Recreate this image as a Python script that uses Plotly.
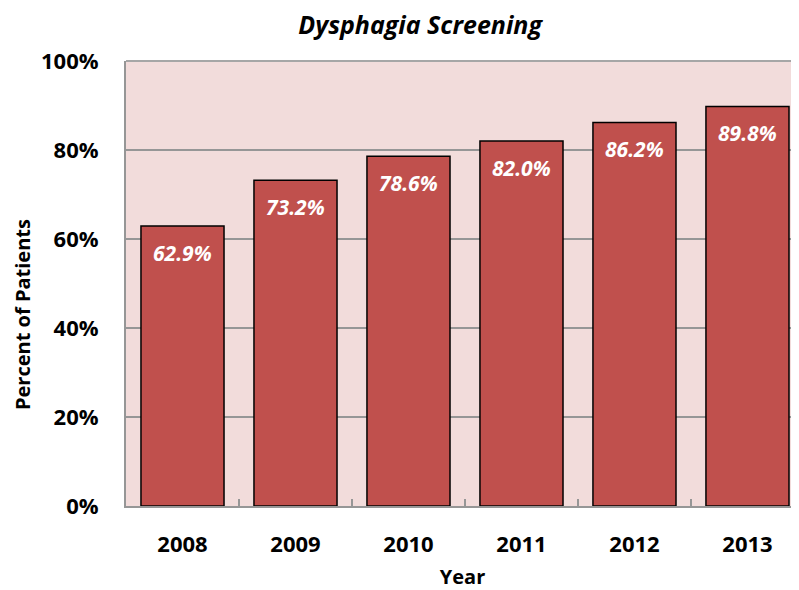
import plotly.graph_objects as go

years = ["2008", "2009", "2010", "2011", "2012", "2013"]
pct = [0.629, 0.732, 0.786, 0.820, 0.862, 0.898]
labels = ["62.9%", "73.2%", "78.6%", "82.0%", "86.2%", "89.8%"]

FONT = "'Open Sans', sans-serif"

fig = go.Figure(go.Bar(
    x=years, y=pct,
    marker=dict(color="#c0504d", line=dict(color="black", width=1.5)),
    width=0.735,
))

# data labels, white bold italic inside the top of each bar
for i, (v, lab) in enumerate(zip(pct, labels)):
    fig.add_annotation(
        x=i, y=v, text=lab, showarrow=False,
        yanchor="middle", yshift=-27,
        font=dict(family=FONT, size=21, color="white", style="italic", weight="bold"),
    )

# y axis title sits a bit below the plot's middle in the original
fig.add_annotation(
    xref="paper", yref="paper", x=-0.154, y=0.43,
    text="Percent of Patients", textangle=-90, showarrow=False,
    xanchor="center", yanchor="middle",
    font=dict(family=FONT, size=20, weight="bold", color="black"),
)

# page body has an 8px margin, so the figure is sized a bit smaller
fig.update_layout(
    width=791, height=582,
    margin=dict(l=118, r=0, t=53, b=84),
    paper_bgcolor="white",
    plot_bgcolor="#f2dcdb",
    showlegend=False,
    font=dict(family=FONT, color="black"),
    title=dict(
        text="Dysphagia Screening",
        font=dict(family=FONT, size=25, style="italic", weight="bold", color="black"),
        x=0.521, xanchor="center", y=0.97, yanchor="middle",
    ),
)

fig.update_xaxes(
    type="category", range=[-0.5, 5.456], automargin=False,
    showline=True, linecolor="#969696", linewidth=2,
    ticks="inside", tickson="boundaries", ticklen=7, tickcolor="#969696", tickwidth=1.5,
    tickfont=dict(size=22, weight="bold"),
    ticklabelstandoff=18,
    title=dict(text="Year", font=dict(size=20, weight="bold"), standoff=13),
    showgrid=False,
)

fig.update_yaxes(
    range=[0, 1], automargin=False,
    tickvals=[0, 0.2, 0.4, 0.6, 0.8, 1.0], tickformat=".0%",
    showline=True, linecolor="#969696", linewidth=2,
    ticks="inside", ticklen=8, tickcolor="#969696", tickwidth=1.5,
    tickfont=dict(size=22, weight="bold"),
    ticklabelstandoff=21,
    showgrid=True, gridcolor="#969696", gridwidth=1.5,
    zeroline=False,
)

# top border of plot area
fig.add_shape(type="line", xref="paper", yref="paper", x0=0, x1=1, y0=1, y1=1,
              line=dict(color="#a6a6a6", width=2))

fig.write_html("out.html")
